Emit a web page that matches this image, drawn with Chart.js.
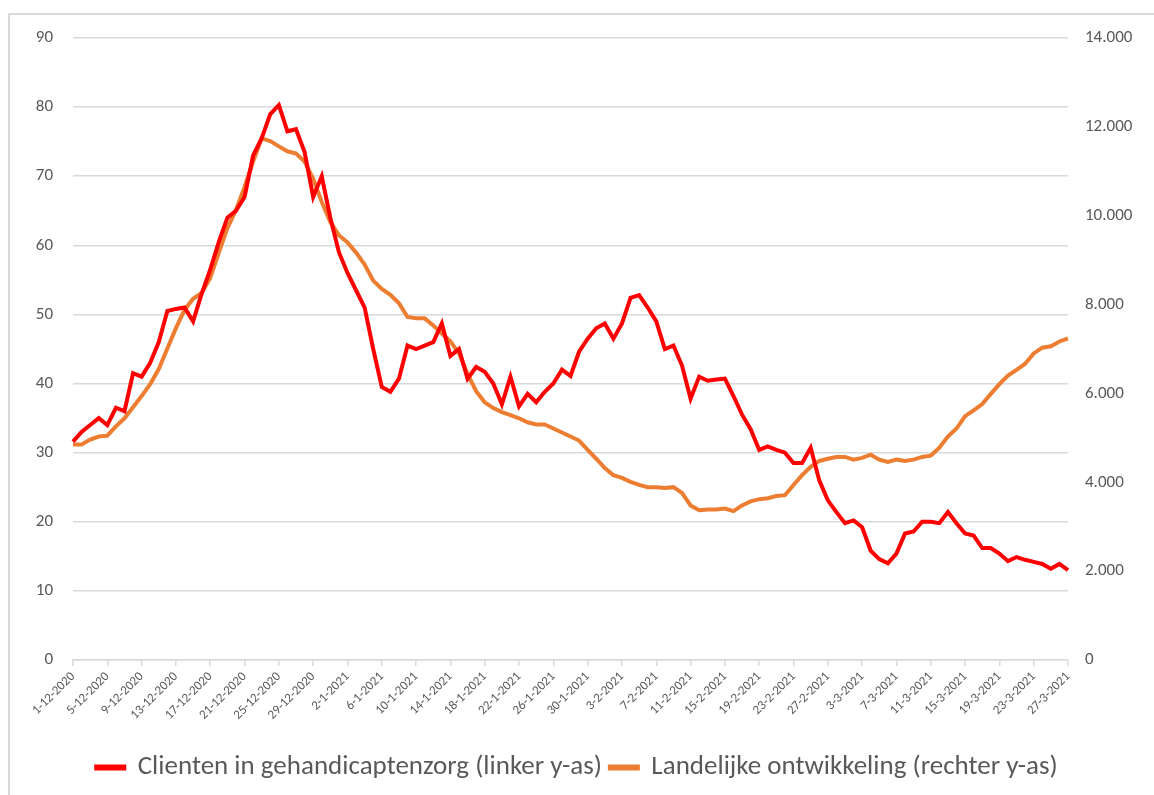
<!DOCTYPE html>
<html>
<head>
<meta charset="utf-8">
<script src="https://cdn.jsdelivr.net/npm/chart.js@4/dist/chart.umd.min.js"></script>
<style>
  html, body { margin: 0; padding: 0; background: #fff; }
  #wrap { position: relative; width: 1154px; height: 795px; }
  #frame { position: absolute; left: 8px; top: 13px; width: 1160px; height: 800px;
           border-left: 2px solid #d9d9d9; border-top: 2px solid #d9d9d9; }
  canvas { position: absolute; left: 0; top: 0; }
</style>
</head>
<body>
<div id="wrap">
  <div id="frame"></div>
  <canvas id="chart" width="1154" height="795"></canvas>
</div>
<script>
// months shown on the x axis: [days shown, month, year]
var months = [[31, 12, 2020], [31, 1, 2021], [28, 2, 2021], [27, 3, 2021]];

// clients in disability care (left y axis), one value per day from 1-12-2020
var clienten = [
  31.6, 33, 34, 35, 34, 36.5, 36, 41.5, 41, 43,
  46, 50.5, 50.8, 51, 49, 53, 56.5, 60.5, 64, 65,
  67, 73, 75.5, 79, 80.3, 76.5, 76.8, 73.5, 67, 70,
  64, 59, 56, 53.5, 51, 45, 39.5, 38.8, 40.7, 45.5,
  45, 45.5, 46, 48.7, 44, 45, 40.7, 42.4, 41.7, 40,
  37, 41, 36.7, 38.5, 37.3, 38.8, 40, 42, 41.1, 44.6,
  46.5, 48, 48.7, 46.5, 48.7, 52.4, 52.8, 51, 49, 45,
  45.5, 42.6, 37.8, 41, 40.4, 40.6, 40.7, 38.2, 35.5, 33.4,
  30.4, 30.9, 30.4, 30, 28.5, 28.5, 30.7, 26, 23.1, 21.4,
  19.8, 20.2, 19.2, 15.8, 14.6, 14, 15.4, 18.3, 18.6, 20,
  20, 19.8, 21.4, 19.8, 18.3, 18, 16.2, 16.2, 15.4, 14.3,
  14.9, 14.5, 14.2, 13.9, 13.2, 13.9, 13
];

// national development (right y axis)
var landelijk = [
  4850, 4850, 4960, 5030, 5050, 5260, 5440, 5690, 5940, 6210,
  6550, 7010, 7470, 7880, 8130, 8260, 8600, 9170, 9720, 10130,
  10650, 11220, 11740, 11680, 11560, 11450, 11400, 11220, 10830, 10310,
  9860, 9560, 9400, 9170, 8900, 8540, 8350, 8220, 8030, 7720,
  7690, 7690, 7530, 7350, 7170, 6900, 6440, 6050, 5800, 5670,
  5580, 5510, 5440, 5350, 5300, 5300, 5210, 5120, 5030, 4940,
  4730, 4530, 4320, 4160, 4100, 4010, 3940, 3890, 3890, 3870,
  3890, 3760, 3480, 3370, 3390, 3390, 3410, 3350, 3480, 3570,
  3620, 3640, 3690, 3710, 3940, 4160, 4350, 4480, 4530, 4570,
  4570, 4510, 4550, 4620, 4510, 4460, 4510, 4480, 4510, 4570,
  4600, 4780, 5030, 5210, 5490, 5620, 5760, 5990, 6210, 6400,
  6530, 6670, 6900, 7030, 7060, 7170, 7240
];

var leftTicks = [0, 10, 20, 30, 40, 50, 60, 70, 80, 90];
var rightTicks = [0, 2000, 4000, 6000, 8000, 10000, 12000, 14000];

var seriesNames = ['Clienten in gehandicaptenzorg (linker y-as)', 'Landelijke ontwikkeling (rechter y-as)'];

// daily category labels like "1-12-2020"
var dagen = [];
months.forEach(function (m) {
  for (var d = 1; d <= m[0]; d++) dagen.push(d + '-' + m[1] + '-' + m[2]);
});

var grey = '#595959';
var gridGrey = '#d9d9d9';
var fam = '"Liberation Sans Narrow", Carlito, Lato, "Open Sans", sans-serif';

function nl(v) {
  return v.toString().replace(/\B(?=(\d{3})+(?!\d))/g, '.');
}

const ctx = document.getElementById('chart');
var chart = new Chart(ctx, {
  type: 'line',
  data: {
    labels: dagen,
    datasets: [
      {
        label: seriesNames[0],
        data: clienten,
        borderColor: '#ff0000',
        backgroundColor: '#ff0000',
        borderWidth: 4,
        pointRadius: 0,
        tension: 0,
        yAxisID: 'y'
      },
      {
        label: seriesNames[1],
        data: landelijk,
        borderColor: '#ed7d31',
        backgroundColor: '#ed7d31',
        borderWidth: 4,
        pointRadius: 0,
        tension: 0,
        yAxisID: 'y2'
      }
    ]
  },
  options: {
    responsive: false,
    animation: false,
    layout: { padding: { top: 38, bottom: 4, left: 0, right: 0 } },
    plugins: {
      tooltip: { enabled: false },
      legend: {
        position: 'bottom',
        labels: {
          color: grey,
          boxWidth: 28,
          boxHeight: 2,
          padding: 8,
          font: { family: fam, size: 27 }
        }
      }
    },
    scales: {
      x: {
        offset: false,
        grid: { display: true, drawOnChartArea: false, drawTicks: true, tickLength: 6, color: gridGrey, lineWidth: 1.5 },
        border: { display: true, color: gridGrey, width: 1.5 },
        ticks: {
          autoSkip: false,
          maxRotation: 45,
          minRotation: 45,
          padding: 3,
          color: grey,
          font: { family: fam, size: 13 },
          callback: function (v, i) { return i % 4 === 0 ? dagen[i] : null; }
        },
        afterFit: function (s) { s.height = 86; }
      },
      y: {
        position: 'left',
        min: 0,
        max: 90,
        afterBuildTicks: function (s) { s.ticks = leftTicks.map(function (v) { return { value: v }; }); },
        grid: { color: gridGrey, lineWidth: 1.5, drawTicks: false },
        border: { display: false },
        ticks: { color: grey, padding: 20, font: { family: fam, size: 17 } },
        afterFit: function (s) { s.width = 73; }
      },
      y2: {
        position: 'right',
        min: 0,
        max: 14000,
        afterBuildTicks: function (s) { s.ticks = rightTicks.map(function (v) { return { value: v }; }); },
        grid: { drawOnChartArea: false, drawTicks: false },
        border: { display: false },
        ticks: {
          color: grey,
          padding: 17,
          font: { family: fam, size: 17 },
          callback: function (v) { return nl(v); }
        },
        afterFit: function (s) { s.width = 86; }
      }
    }
  }
});
</script>
</body>
</html>
